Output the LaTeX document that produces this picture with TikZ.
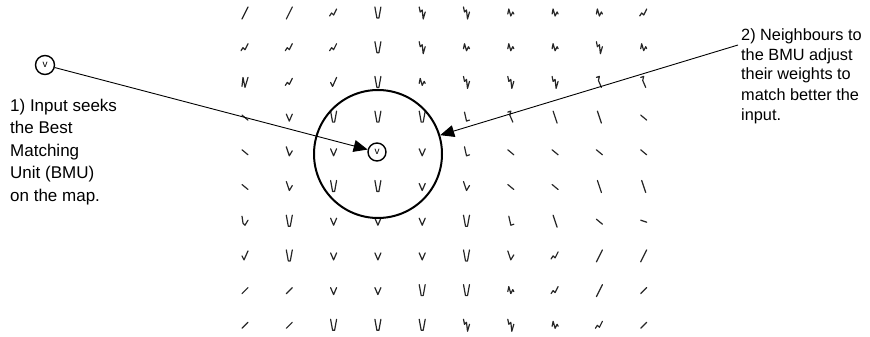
\documentclass[tikz,border=0pt]{standalone}
\usepackage{fontspec}
\setmainfont{Liberation Sans}
\usetikzlibrary{arrows.meta}
\begin{document}
\begin{tikzpicture}[x=1pt,y=-1pt,
  glyph/.style={line width=1.2pt, black!85, line join=round, line cap=round},
  ring/.style={draw, circle, line width=1.4pt, inner sep=0pt, minimum size=19pt, font=\fontsize{10}{10}\selectfont},
  bigring/.style={draw, circle, line width=2pt, inner sep=0pt, minimum size=128pt},
  conn/.style={line width=0.9pt, -{Triangle[length=14pt,width=12pt]}},
  lbl/.style={align=left, inner sep=0pt, anchor=base west},
  sl/.pic={\draw[glyph] (-3,6)--(3,-6);},
  ss/.pic={\draw[glyph] (-3,3)--(3,-3);},
  bl/.pic={\draw[glyph] (-2,-6)--(2,6);},
  bs/.pic={\draw[glyph] (-3,-2)--(3,3);},
  ds/.pic={\draw[glyph] (-3,-1)--(3,1);},
  wr/.pic={\draw[glyph] (-4,3)--(-2,0)--(0,2)--(3,-4);},
  vt/.pic={\draw[glyph] (-3,-6)--(-1,5)--(1,5)--(3,-6);},
  vv/.pic={\draw[glyph] (-3,-3)--(0,4)--(3,-3);},
  hv/.pic={\draw[glyph] (-3,-5)--(0,4)--(3,-1);},
  nt/.pic={\draw[glyph] (-3,-6)--(-2,-1)--(0,-3)--(1,6)--(3,-1);},
  nw/.pic={\draw[glyph] (-3,1)--(-2,-4)--(0,3)--(2,-1)--(3,1);},
  ww/.pic={\draw[glyph] (-3,4)--(-2,-5)--(0,5)--(3,-5);},
  ck/.pic={\draw[glyph] (-3,0)--(-1,4)--(3,-5);},
  ll/.pic={\draw[glyph] (-2,-5)--(0,4)--(3,3);},
  tb/.pic={\draw[glyph] (-3,-5)--(0,-6)--(-1,-2)--(2,5);},
  sv/.pic={\draw[glyph] (-3,-5)--(-2,2)--(0,4)--(3,-1);},
  no/.pic={}
]
\useasboundingbox (0,0) rectangle (870,337);
\foreach \row [count=\j from 0] in {
  {sl,sl,wr,vt,nt,nt,nw,nw,nw,wr},
  {wr,wr,wr,vt,nt,nw,nw,nw,nt,nw},
  {ww,wr,ck,vt,nw,nt,nt,nt,tb,tb},
  {bs,vv,vt,vt,vt,ll,tb,bl,bl,bs},
  {bs,hv,vv,no,vv,ll,bs,bs,bs,bs},
  {bs,hv,vt,vt,vv,hv,bs,bs,bl,bl},
  {sv,vt,vv,vv,vv,vt,ll,bl,bs,ds},
  {ck,vt,vv,vv,vv,vt,hv,wr,sl,sl},
  {ss,ss,vv,vv,vt,vt,nw,wr,sl,ss},
  {ss,ss,vt,vt,vt,nt,nt,nw,wr,ss}} {
  \foreach \t [count=\i from 0] in \row {
    \pgfmathsetmacro\xx{245+44.3*\i}
    \pgfmathsetmacro\yy{13+34.7*\j}
    \edef\tmp{\noexpand\pic at (\xx,\yy) {\t};}
    \tmp
  }
}
\node[ring] (in) at (45,65) {v};
\node[ring, minimum size=18pt] (bmu) at (377,152) {v};
\node[bigring] (nbh) at (378,154) {};
\coordinate (s2) at (738,45);
\draw[conn] (in) -- (bmu);
\draw[conn] (s2) -- (nbh);
\node[lbl, font=\fontsize{17}{22.5}\selectfont] (t1) at (10,201)
  {1) Input seeks\\the Best\\Matching\\Unit (BMU)\\on the map.};
\node[lbl, font=\fontsize{16.3}{20}\selectfont] (t2) at (741,120)
  {2) Neighbours to\\the BMU adjust\\their weights to\\match better the\\input.};
\end{tikzpicture}
\end{document}
